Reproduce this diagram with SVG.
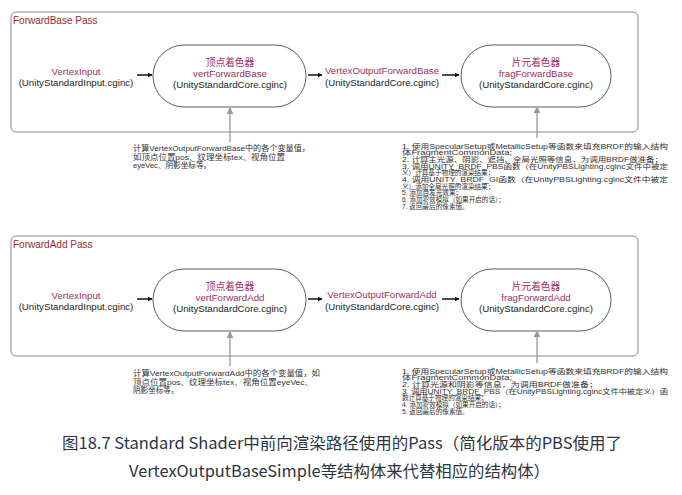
<svg xmlns="http://www.w3.org/2000/svg" width="682" height="495" viewBox="0 0 682 495">
<style>
.pass{fill:none;stroke:#8a8a8a;stroke-width:1}
.title{font-family:"Liberation Sans","Noto Sans CJK SC",sans-serif;font-size:10px;fill:#9a2c2c}
.node{fill:#fff;stroke:#333;stroke-width:0.8}
.lbl{font-family:"Liberation Sans","Noto Sans CJK SC",sans-serif;font-size:9.7px;text-anchor:middle}
.name{fill:#9c2f62}
.file{fill:#222}
.note{font-family:"Liberation Sans","Noto Sans CJK SC",sans-serif;font-size:7.6px;fill:#333}
.note2{font-family:"Liberation Sans","Noto Sans CJK SC",sans-serif;font-size:6.6px;fill:#333}
.harr{stroke:#111;stroke-width:1.5;fill:none;marker-end:url(#ah)}
.varr{stroke:#999;stroke-width:1.3;fill:none;marker-end:url(#av)}
.cap{font-family:"Noto Sans CJK SC","Noto Sans",sans-serif;font-size:16px;fill:#2b3540}
</style>
<defs>
<marker id="ah" viewBox="0 0 10 10" refX="9" refY="5" markerWidth="5" markerHeight="5" orient="auto" markerUnits="userSpaceOnUse"><path d="M0,0 L10,5 L0,10 z" fill="#111"/></marker>
<marker id="av" viewBox="0 0 10 10" refX="9" refY="5" markerWidth="7" markerHeight="7" orient="auto" markerUnits="userSpaceOnUse"><path d="M0,0 L10,5 L0,10 z" fill="#999"/></marker>
</defs>

<g id="forwardbase-pass">
<rect class="pass" x="11" y="12" width="627" height="120" rx="5"/>
<text class="title" x="13" y="24">ForwardBase Pass</text>
</g>
<g id="fb-vertexinput">
<text class="lbl name" x="76" y="75">VertexInput</text>
<text class="lbl file" x="76" y="86">(UnityStandardInput.cginc)</text>
</g>
<g id="fb-vert">
<rect class="node" x="153" y="45" width="153" height="62" rx="31"/>
<text class="lbl name" x="230" y="66">顶点着色器</text>
<text class="lbl name" x="230" y="77">vertForwardBase</text>
<text class="lbl file" x="230" y="88">(UnityStandardCore.cginc)</text>
</g>
<g id="fb-output">
<text class="lbl name" x="382" y="74">VertexOutputForwardBase</text>
<text class="lbl file" x="382" y="86">(UnityStandardCore.cginc)</text>
</g>
<g id="fb-frag">
<rect class="node" x="461" y="45" width="150" height="62" rx="31"/>
<text class="lbl name" x="536" y="66">片元着色器</text>
<text class="lbl name" x="536" y="77">fragForwardBase</text>
<text class="lbl file" x="536" y="88">(UnityStandardCore.cginc)</text>
</g>
<g id="fb-vert-note">
<text class="note" x="133" y="151" textLength="177" lengthAdjust="spacingAndGlyphs">计算VertexOutputForwardBase中的各个变量值，</text>
<text class="note" x="133" y="159.5" textLength="152" lengthAdjust="spacingAndGlyphs">如顶点位置pos、纹理坐标tex、视角位置</text>
<text class="note" x="133" y="168">eyeVec、阴影坐标等。</text>
</g>
<g id="fb-frag-note">
<text class="note2" x="402" y="148.5" textLength="266" lengthAdjust="spacingAndGlyphs">1. 使用SpecularSetup或MetallicSetup等函数来填充BRDF的输入结构</text>
<text class="note2" x="402" y="155.2" textLength="110" lengthAdjust="spacingAndGlyphs">体FragmentCommonData;</text>
<text class="note2" x="402" y="161.9" textLength="261" lengthAdjust="spacingAndGlyphs">2. 计算主光源、阴影、遮挡、全局光照等信息，为调用BRDF做准备；</text>
<text class="note2" x="402" y="168.6" textLength="266" lengthAdjust="spacingAndGlyphs">3. 调用UNITY_BRDF_PBS函数（在UnityPBSLighting.cginc文件中被定</text>
<text class="note2" x="402" y="175.3">义）计算基于物理的渲染结果；</text>
<text class="note2" x="402" y="182" textLength="266" lengthAdjust="spacingAndGlyphs">4. 调用UNITY_BRDF_GI函数（在UnityPBSLighting.cginc文件中被定</text>
<text class="note2" x="402" y="188.7">义）添加全局光照的渲染结果；</text>
<text class="note2" x="402" y="195.4">5. 添加自发光效果；</text>
<text class="note2" x="402" y="202.1">6. 添加雾效模拟（如果开启的话）；</text>
<text class="note2" x="402" y="208.8">7. 返回最后的像素值。</text>
</g>

<g id="forwardadd-pass">
<rect class="pass" x="11" y="236" width="627" height="120" rx="5"/>
<text class="title" x="13" y="248">ForwardAdd Pass</text>
</g>
<g id="fa-vertexinput">
<text class="lbl name" x="76" y="299">VertexInput</text>
<text class="lbl file" x="76" y="310">(UnityStandardInput.cginc)</text>
</g>
<g id="fa-vert">
<rect class="node" x="153" y="269" width="153" height="62" rx="31"/>
<text class="lbl name" x="230" y="290">顶点着色器</text>
<text class="lbl name" x="230" y="301">vertForwardAdd</text>
<text class="lbl file" x="230" y="312">(UnityStandardCore.cginc)</text>
</g>
<g id="fa-output">
<text class="lbl name" x="382" y="298">VertexOutputForwardAdd</text>
<text class="lbl file" x="382" y="310">(UnityStandardCore.cginc)</text>
</g>
<g id="fa-frag">
<rect class="node" x="461" y="269" width="150" height="62" rx="31"/>
<text class="lbl name" x="536" y="290">片元着色器</text>
<text class="lbl name" x="536" y="301">fragForwardAdd</text>
<text class="lbl file" x="536" y="312">(UnityStandardCore.cginc)</text>
</g>
<g id="fa-vert-note">
<text class="note" x="133" y="376" textLength="187" lengthAdjust="spacingAndGlyphs">计算VertexOutputForwardAdd中的各个变量值，如</text>
<text class="note" x="133" y="384.5" textLength="180" lengthAdjust="spacingAndGlyphs">顶点位置pos、纹理坐标tex、视角位置eyeVec、</text>
<text class="note" x="133" y="393">阴影坐标等。</text>
</g>
<g id="fa-frag-note">
<text class="note2" x="402" y="373.5" textLength="266" lengthAdjust="spacingAndGlyphs">1. 使用SpecularSetup或MetallicSetup等函数来填充BRDF的输入结构</text>
<text class="note2" x="402" y="380.2" textLength="110" lengthAdjust="spacingAndGlyphs">体FragmentCommonData;</text>
<text class="note2" x="402" y="386.9" textLength="196" lengthAdjust="spacingAndGlyphs">2. 计算光源和阴影等信息，为调用BRDF做准备；</text>
<text class="note2" x="402" y="393.6" textLength="266" lengthAdjust="spacingAndGlyphs">3. 调用UNITY_BRDF_PBS（在UnityPBSLighting.cginc文件中被定义）函</text>
<text class="note2" x="402" y="400.3">数计算基于物理的渲染结果；</text>
<text class="note2" x="402" y="407">4. 添加雾效模拟（如果开启的话）；</text>
<text class="note2" x="402" y="413.7">5. 返回最后的像素值。</text>
</g>

<g id="connectors">
<line class="harr" x1="137" y1="75" x2="152" y2="75"/>
<line class="harr" x1="308" y1="75" x2="322" y2="75"/>
<line class="harr" x1="442" y1="75" x2="459" y2="75"/>
<line class="varr" x1="230" y1="142" x2="230" y2="108"/>
<line class="varr" x1="537" y1="138" x2="537" y2="107"/>
<line class="harr" x1="137" y1="299" x2="152" y2="299"/>
<line class="harr" x1="308" y1="299" x2="322" y2="299"/>
<line class="harr" x1="442" y1="299" x2="459" y2="299"/>
<line class="varr" x1="230" y1="366" x2="230" y2="332"/>
<line class="varr" x1="537" y1="363" x2="537" y2="331"/>
</g>

<g id="caption">
<text class="cap" x="62" y="449" textLength="560" lengthAdjust="spacingAndGlyphs">图18.7 Standard Shader中前向渲染路径使用的Pass（简化版本的PBS使用了</text>
<text class="cap" x="129" y="477" textLength="421" lengthAdjust="spacingAndGlyphs">VertexOutputBaseSimple等结构体来代替相应的结构体）</text>
</g>
</svg>
